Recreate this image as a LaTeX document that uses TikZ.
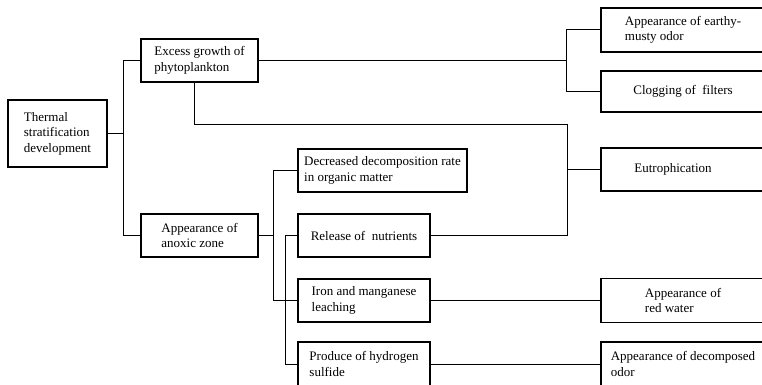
\documentclass[tikz,border=0pt]{standalone}
\usepackage{fontspec}
\setmainfont{Liberation Serif}
\begin{document}
\begin{tikzpicture}[x=1pt,y=-1pt,
  boxnode/.style={draw, line width=1.2pt, align=left, inner sep=0pt,
    font=\fontsize{13}{15.5}\selectfont},
  link/.style={line width=1pt}]
\useasboundingbox (0,0) rectangle (762,385);
\clip (0,0) rectangle (762,385);
% boxes
\node[boxnode, minimum width=99pt, minimum height=67pt] (therm) at (57.5,133.5) {Thermal\\stratification\\development};
\node[boxnode, minimum width=117pt, minimum height=43pt] (excess) at (199.5,60.5) {Excess growth of\\phytoplankton};
\node[boxnode, minimum width=117pt, minimum height=43pt] (anoxic) at (199.5,235.5) {Appearance of\\anoxic zone};
\node[boxnode, minimum width=169pt, minimum height=43pt] (decr) at (382.5,170.5) {Decreased decomposition rate\\in organic matter};
\node[boxnode, minimum width=132pt, minimum height=43pt] (release) at (364,235.5) {Release of\ \ nutrients};
\node[boxnode, minimum width=132pt, minimum height=43pt] (iron) at (364,300.5) {Iron and manganese\\leaching};
\node[boxnode, minimum width=132pt, minimum height=44pt] (produce) at (364,364) {Produce of hydrogen\\sulfide};
\node[boxnode, minimum width=164pt, minimum height=44pt] (earthy) at (683,30) {Appearance of earthy-\\musty odor};
\node[boxnode, minimum width=164pt, minimum height=41pt] (clog) at (683,91.5) {Clogging of\ \ filters};
\node[boxnode, minimum width=164pt, minimum height=43pt] (eutro) at (683,169.5) {Eutrophication\hspace*{20pt}};
\node[boxnode, minimum width=164pt, minimum height=44pt] (red) at (683,300.5) {Appearance of\\red water};
\node[boxnode, minimum width=164pt, minimum height=44pt] (decomp) at (683,364) {Appearance of decomposed\\odor\hspace*{120pt}};
% junction coordinates
\coordinate (j1) at (124,133.5);
\coordinate (j2) at (567,60.5);
\coordinate (j3) at (567,124);
\coordinate (j4) at (567,235.5);
\coordinate (j5) at (274,235.5);
% connectors
\draw[link] (therm.east) -- (j1);
\draw[link] (excess.west) -- ++(-17,0) |- (anoxic.west);
\draw[link] (excess.east) -- (j2);
\draw[link] (earthy.west) -- ++(-34,0) |- (clog.west);
\draw[link] ([xshift=-5.5pt]excess.south) |- (j3) -- (j4);
\draw[link] (release.east) -- (j4);
\draw[link] (eutro.west) -- (eutro.west -| j3);
\draw[link] (anoxic.east) -- (j5);
\draw[link] (decr.west) -- ++(-24,0) |- (iron.west);
\draw[link] (release.west) -- ++(-12,0) |- (produce.west);
\draw[link] (iron.east) -- (red.west);
\draw[link] (produce.east) -- (decomp.west);
\end{tikzpicture}
\end{document}
